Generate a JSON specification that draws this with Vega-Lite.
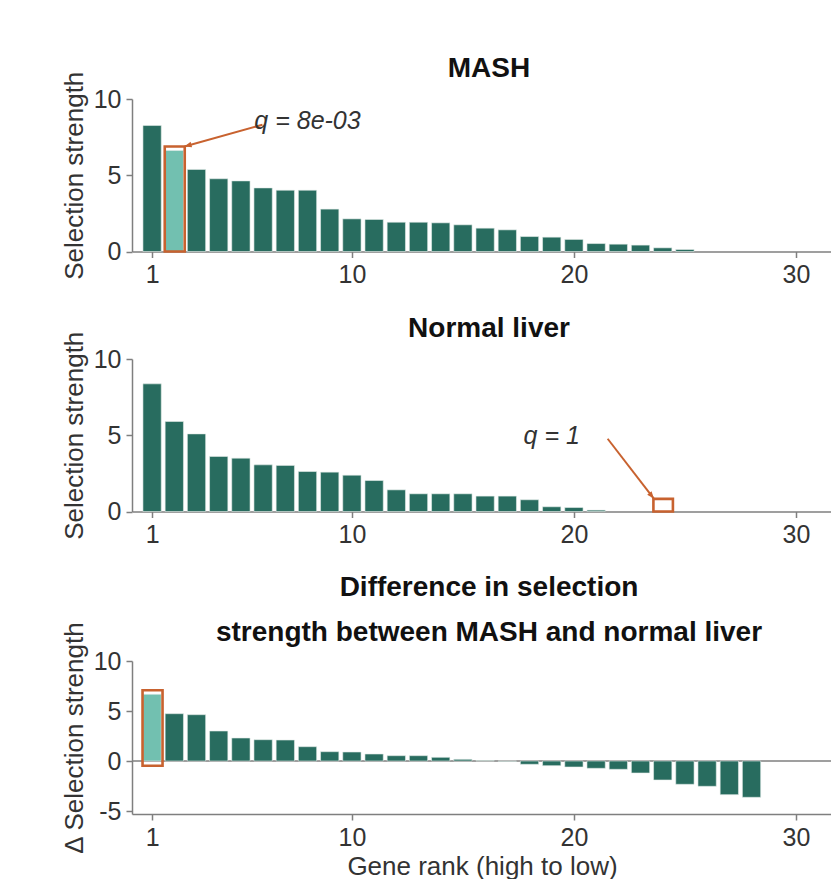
{
  "$schema": "https://vega.github.io/schema/vega-lite/v6.json",
  "padding": {"left": 61, "top": 54, "right": 0, "bottom": 0},
  "spacing": 26,
  "config": {
    "view": {"stroke": null},
    "font": "Liberation Sans",
    "axis": {"domainColor": "#7f7f7f", "domainWidth": 1.5, "tickColor": "#7f7f7f", "tickWidth": 1.5, "tickSize": 6, "labelFontSize": 25, "labelColor": "#333333", "labelFont": "Liberation Sans", "titleFont": "Liberation Sans", "titleFontSize": 26, "titleFontWeight": "normal", "titleColor": "#333333", "grid": false, "labelPadding": 5, "titlePadding": 6},
    "title": {"fontSize": 28, "fontWeight": "bold", "color": "#111111", "anchor": "middle", "frame": "group", "offset": -11.5, "dx": 7, "font": "Liberation Sans"}
  },
  "datasets": {
    "mash": [
      {"rank": 1, "value": 8.26, "hl": "no"}, {"rank": 2, "value": 6.62, "hl": "yes"}, {"rank": 3, "value": 5.38, "hl": "no"},
      {"rank": 4, "value": 4.77, "hl": "no"}, {"rank": 5, "value": 4.63, "hl": "no"}, {"rank": 6, "value": 4.17, "hl": "no"},
      {"rank": 7, "value": 4.02, "hl": "no"}, {"rank": 8, "value": 4.02, "hl": "no"}, {"rank": 9, "value": 2.78, "hl": "no"},
      {"rank": 10, "value": 2.14, "hl": "no"}, {"rank": 11, "value": 2.10, "hl": "no"}, {"rank": 12, "value": 1.92, "hl": "no"},
      {"rank": 13, "value": 1.92, "hl": "no"}, {"rank": 14, "value": 1.88, "hl": "no"}, {"rank": 15, "value": 1.75, "hl": "no"},
      {"rank": 16, "value": 1.53, "hl": "no"}, {"rank": 17, "value": 1.42, "hl": "no"}, {"rank": 18, "value": 0.98, "hl": "no"},
      {"rank": 19, "value": 0.94, "hl": "no"}, {"rank": 20, "value": 0.79, "hl": "no"}, {"rank": 21, "value": 0.52, "hl": "no"},
      {"rank": 22, "value": 0.48, "hl": "no"}, {"rank": 23, "value": 0.42, "hl": "no"}, {"rank": 24, "value": 0.24, "hl": "no"},
      {"rank": 25, "value": 0.13, "hl": "no"}
    ],
    "normal": [
      {"rank": 1, "value": 8.37, "hl": "no"}, {"rank": 2, "value": 5.90, "hl": "no"}, {"rank": 3, "value": 5.09, "hl": "no"},
      {"rank": 4, "value": 3.61, "hl": "no"}, {"rank": 5, "value": 3.50, "hl": "no"}, {"rank": 6, "value": 3.06, "hl": "no"},
      {"rank": 7, "value": 3.02, "hl": "no"}, {"rank": 8, "value": 2.62, "hl": "no"}, {"rank": 9, "value": 2.58, "hl": "no"},
      {"rank": 10, "value": 2.38, "hl": "no"}, {"rank": 11, "value": 2.03, "hl": "no"}, {"rank": 12, "value": 1.42, "hl": "no"},
      {"rank": 13, "value": 1.16, "hl": "no"}, {"rank": 14, "value": 1.16, "hl": "no"}, {"rank": 15, "value": 1.16, "hl": "no"},
      {"rank": 16, "value": 1.01, "hl": "no"}, {"rank": 17, "value": 1.01, "hl": "no"}, {"rank": 18, "value": 0.77, "hl": "no"},
      {"rank": 19, "value": 0.31, "hl": "no"}, {"rank": 20, "value": 0.26, "hl": "no"}, {"rank": 21, "value": 0.09, "hl": "no"}
    ],
    "delta": [
      {"rank": 1, "value": 6.67, "hl": "yes"}, {"rank": 2, "value": 4.73, "hl": "no"}, {"rank": 3, "value": 4.63, "hl": "no"},
      {"rank": 4, "value": 3.0, "hl": "no"}, {"rank": 5, "value": 2.3, "hl": "no"}, {"rank": 6, "value": 2.13, "hl": "no"},
      {"rank": 7, "value": 2.1, "hl": "no"}, {"rank": 8, "value": 1.43, "hl": "no"}, {"rank": 9, "value": 0.93, "hl": "no"},
      {"rank": 10, "value": 0.9, "hl": "no"}, {"rank": 11, "value": 0.7, "hl": "no"}, {"rank": 12, "value": 0.53, "hl": "no"},
      {"rank": 13, "value": 0.53, "hl": "no"}, {"rank": 14, "value": 0.37, "hl": "no"}, {"rank": 15, "value": 0.17, "hl": "no"},
      {"rank": 16, "value": 0.04, "hl": "no"}, {"rank": 17, "value": -0.03, "hl": "no"}, {"rank": 18, "value": -0.33, "hl": "no"},
      {"rank": 19, "value": -0.47, "hl": "no"}, {"rank": 20, "value": -0.6, "hl": "no"}, {"rank": 21, "value": -0.73, "hl": "no"},
      {"rank": 22, "value": -0.83, "hl": "no"}, {"rank": 23, "value": -1.2, "hl": "no"}, {"rank": 24, "value": -1.9, "hl": "no"},
      {"rank": 25, "value": -2.33, "hl": "no"}, {"rank": 26, "value": -2.53, "hl": "no"}, {"rank": 27, "value": -3.37, "hl": "no"},
      {"rank": 28, "value": -3.63, "hl": "no"}
    ]
  },
  "vconcat": [
    {
      "title": {"text": "MASH"},
      "width": 700, "height": 152.5,
      "layer": [
        {
          "data": {"name": "mash"},
          "mark": {"type": "bar", "size": 18.3, "stroke": "#e4ece9", "strokeWidth": 0.6},
          "encoding": {
            "x": {"field": "rank", "type": "quantitative", "scale": {"domain": [0.32, 31.4], "nice": false, "zero": false}, "axis": {"values": [1, 10, 20, 30], "title": null}},
            "y": {"field": "value", "type": "quantitative", "scale": {"domain": [0, 10], "nice": false}, "axis": {"values": [0, 5, 10], "title": "Selection strength"}},
            "color": {"field": "hl", "type": "nominal", "scale": {"domain": ["no", "yes"], "range": ["#286c5f", "#72c0b0"]}, "legend": null}
          }
        },
        {
          "data": {"values": [{"rank": 2.02, "lo": 0, "hi": 6.89}]},
          "mark": {"type": "bar", "filled": false, "color": "#c8622f", "size": 20, "strokeWidth": 2.6},
          "encoding": {
            "x": {"field": "rank", "type": "quantitative"},
            "y": {"field": "lo", "type": "quantitative"},
            "y2": {"field": "hi"}
          }
        },
        {
          "data": {"values": [{"xa": 5.97, "ya": 8.31, "xb": 2.46, "yb": 6.89}]},
          "mark": {"type": "rule", "color": "#c8622f", "strokeWidth": 2},
          "encoding": {
            "x": {"field": "xa", "type": "quantitative"},
            "y": {"field": "ya", "type": "quantitative"},
            "x2": {"field": "xb"},
            "y2": {"field": "yb"}
          }
        },
        {
          "data": {"values": [{"xb": 2.46, "yb": 6.89}]},
          "mark": {"type": "point", "shape": "M0,0L0.8,2L-0.8,2Z", "filled": true, "color": "#c8622f", "size": 50, "angle": 255, "opacity": 1},
          "encoding": {
            "x": {"field": "xb", "type": "quantitative"},
            "y": {"field": "yb", "type": "quantitative"}
          }
        },
        {
          "data": {"values": [{"xt": 8.0, "yt": 8.59, "label": "q = 8e-03"}]},
          "mark": {"type": "text", "fontSize": 25, "fontStyle": "italic", "color": "#333333", "align": "center", "baseline": "middle"},
          "encoding": {
            "x": {"field": "xt", "type": "quantitative"},
            "y": {"field": "yt", "type": "quantitative"},
            "text": {"field": "label"}
          }
        }
      ]
    },
    {
      "title": {"text": "Normal liver"},
      "width": 700, "height": 152.5,
      "layer": [
        {
          "data": {"name": "normal"},
          "mark": {"type": "bar", "size": 18.3, "stroke": "#e4ece9", "strokeWidth": 0.6},
          "encoding": {
            "x": {"field": "rank", "type": "quantitative", "scale": {"domain": [0.32, 31.4], "nice": false, "zero": false}, "axis": {"values": [1, 10, 20, 30], "title": null}},
            "y": {"field": "value", "type": "quantitative", "scale": {"domain": [0, 10], "nice": false}, "axis": {"values": [0, 5, 10], "title": "Selection strength"}},
            "color": {"field": "hl", "type": "nominal", "scale": {"domain": ["no", "yes"], "range": ["#286c5f", "#72c0b0"]}, "legend": null}
          }
        },
        {
          "data": {"values": [{"rank": 24.02, "lo": 0, "hi": 0.83}]},
          "mark": {"type": "bar", "filled": false, "color": "#c8622f", "size": 19.5, "strokeWidth": 2.6},
          "encoding": {
            "x": {"field": "rank", "type": "quantitative"},
            "y": {"field": "lo", "type": "quantitative"},
            "y2": {"field": "hi"}
          }
        },
        {
          "data": {"values": [{"xa": 21.52, "ya": 4.77, "xb": 23.6, "yb": 0.85}]},
          "mark": {"type": "rule", "color": "#c8622f", "strokeWidth": 2},
          "encoding": {
            "x": {"field": "xa", "type": "quantitative"},
            "y": {"field": "ya", "type": "quantitative"},
            "x2": {"field": "xb"},
            "y2": {"field": "yb"}
          }
        },
        {
          "data": {"values": [{"xb": 23.6, "yb": 0.85}]},
          "mark": {"type": "point", "shape": "M0,0L0.8,2L-0.8,2Z", "filled": true, "color": "#c8622f", "size": 50, "angle": 141, "opacity": 1},
          "encoding": {
            "x": {"field": "xb", "type": "quantitative"},
            "y": {"field": "yb", "type": "quantitative"}
          }
        },
        {
          "data": {"values": [{"xt": 19.0, "yt": 4.98, "label": "q = 1"}]},
          "mark": {"type": "text", "fontSize": 25, "fontStyle": "italic", "color": "#333333", "align": "center", "baseline": "middle"},
          "encoding": {
            "x": {"field": "xt", "type": "quantitative"},
            "y": {"field": "yt", "type": "quantitative"},
            "text": {"field": "label"}
          }
        }
      ]
    },
    {
      "title": {"text": ["Difference in selection", "strength between MASH and normal liver"], "lineHeight": 45, "offset": -26},
      "width": 700, "height": 153,
      "layer": [
        {
          "data": {"values": [{"zero": 0}]},
          "mark": {"type": "rule", "color": "#7f7f7f", "strokeWidth": 1.5},
          "encoding": {"y": {"field": "zero", "type": "quantitative"}}
        },
        {
          "data": {"name": "delta"},
          "mark": {"type": "bar", "size": 18.3, "stroke": "#e4ece9", "strokeWidth": 0.6},
          "encoding": {
            "x": {"field": "rank", "type": "quantitative", "scale": {"domain": [0.32, 31.4], "nice": false, "zero": false}, "axis": {"values": [1, 10, 20, 30], "title": "Gene rank (high to low)", "titlePadding": 3}},
            "y": {"field": "value", "type": "quantitative", "scale": {"domain": [-5.3, 10], "nice": false}, "axis": {"values": [-5, 0, 5, 10], "labelExpr": "'' + datum.value", "title": "Δ Selection strength"}},
            "color": {"field": "hl", "type": "nominal", "scale": {"domain": ["no", "yes"], "range": ["#286c5f", "#72c0b0"]}, "legend": null}
          }
        },
        {
          "data": {"values": [{"rank": 1.02, "lo": -0.47, "hi": 7.07}]},
          "mark": {"type": "bar", "filled": false, "color": "#c8622f", "size": 20, "strokeWidth": 2.6},
          "encoding": {
            "x": {"field": "rank", "type": "quantitative"},
            "y": {"field": "lo", "type": "quantitative"},
            "y2": {"field": "hi"}
          }
        }
      ]
    }
  ]
}
